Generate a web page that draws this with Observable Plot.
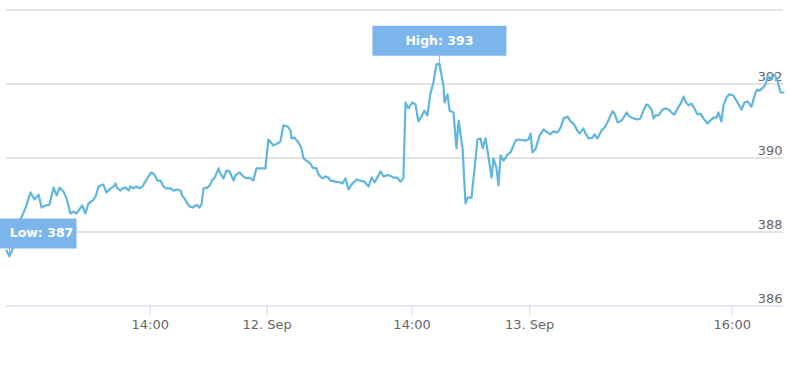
<!DOCTYPE html>
<html>
<head>
<meta charset="utf-8">
<script src="https://cdn.jsdelivr.net/npm/d3@7"></script>
<script src="https://cdn.jsdelivr.net/npm/@observablehq/plot@0.6"></script>
<style>
  html, body { margin: 0; padding: 0; background: #fff; }
  #chart svg { display: block; overflow: visible; }
</style>
</head>
<body>
<div id="chart"></div>
<script>
// ordinal position along the (gap-less) time axis
const pos = [
  0,1,2,3.3,4.7,6.3,8,9.3,10.7,11.7,
  13.3,14.3,15.7,16.7,17.7,19,20,21.3,22.3,23.3,
  24.3,25.3,26.3,27.3,28.7,29.7,30.7,31.3,32.3,33.3,
  34.7,35.7,36.3,37,38,38.7,39.7,40.7,41.3,42.3,
  43.3,44.3,45.3,46.3,47.3,48.3,49.3,50.3,51.3,52.3,
  53.3,54.7,55.7,56.7,58,58.7,59.3,60.3,61,62,
  63,63.7,64.3,65,65.7,67,67.7,68.7,69.3,70.7,
  71.3,72.3,73.3,74.3,75.7,76.3,77.7,79,80,81,
  82.3,83.3,85.3,86.3,87.3,89,90.3,91.3,92.3,93.7,
  94.7,95,96,97.3,98.3,99,100.3,101.3,102,103.3,
  104,105.3,106.3,107.3,108,109.7,111.3,112,113,114,
  115,116.7,117.7,119.3,120.7,121.7,122.7,124.7,125.7,126.7,
  127.7,129,130.3,131.3,132.3,133,134,135.3,136.3,137.3,
  138.3,139.3,140.3,141.3,142.3,143.3,144.3,145.7,146,147,
  147.7,149,150,150.7,152,153,153.7,155,156.3,157,
  158,158.7,159.7,160.7,161.7,162.3,163.3,164,164.7,165.7,
  167,168,169.7,170.7,173,174,174.7,175.3,176.3,177.7,
  179,180.3,181.3,182.3,183.7,184.7,185.7,187,188,189,
  190.3,191,192.3,193,194,195.3,196,197,198.3,199.3,
  200.3,202,202.7,203.7,205,205.7,206.7,207.7,209,210.3,
  211.3,212.3,213.3,214,215,215.7,216.3,217.3,218.7,219.7,
  220.7,222,222.7,223.7,224.7,225.7,226.3,227.3,228.3,229.3,
  230.3,231.3,232.3,233.7,234.3,235.7,236.7,237.3,238.3,239,
  240,241,242.3,243.3,245,246,247,248.3,249.7,250.3,
  251,252.3,253,253.7,254.7,256,257,258,259
];

const price = [
  387.50,387.34,387.53,387.93,388.34,388.64,389.07,388.88,389.01,388.66,
  388.72,388.74,389.20,388.99,389.20,389.09,388.91,388.50,388.55,388.50,
  388.61,388.72,388.50,388.77,388.85,388.96,389.23,389.26,389.28,389.07,
  389.18,389.23,389.31,389.18,389.12,389.18,389.20,389.12,389.23,389.18,
  389.23,389.18,389.23,389.36,389.50,389.61,389.55,389.39,389.39,389.23,
  389.18,389.18,389.12,389.15,389.12,388.96,388.91,388.77,388.69,388.66,
  388.72,388.72,388.66,388.74,389.18,389.20,389.26,389.42,389.45,389.72,
  389.58,389.45,389.66,389.64,389.39,389.53,389.61,389.50,389.45,389.47,
  389.39,389.72,389.72,389.72,390.50,390.34,390.39,390.45,390.88,390.85,
  390.74,390.53,390.55,390.42,390.28,389.99,389.91,389.85,389.74,389.72,
  389.55,389.45,389.50,389.47,389.39,389.36,389.34,389.31,389.45,389.15,
  389.28,389.42,389.39,389.36,389.23,389.47,389.34,389.64,389.50,389.53,
  389.53,389.47,389.47,389.36,389.45,391.50,391.34,391.50,391.45,390.99,
  391.12,391.28,391.15,391.74,392.04,392.53,392.55,391.93,391.50,391.72,
  391.28,391.23,390.26,391.01,390.28,388.77,388.93,388.93,389.93,390.50,
  390.53,390.26,390.53,390.01,389.47,389.99,389.74,389.26,390.07,389.93,
  390.09,390.15,390.47,390.50,390.47,390.50,390.66,390.15,390.23,390.61,
  390.77,390.69,390.64,390.72,390.69,390.82,391.07,391.12,390.99,390.93,
  390.74,390.66,390.80,390.66,390.53,390.55,390.64,390.53,390.74,390.82,
  390.96,391.26,391.20,390.96,391.01,391.09,391.23,391.12,391.07,391.04,
  391.07,391.28,391.45,391.42,391.31,391.07,391.15,391.15,391.31,391.34,
  391.31,391.20,391.18,391.34,391.47,391.66,391.53,391.42,391.47,391.34,
  391.18,391.20,391.07,390.93,390.99,391.09,391.09,391.23,390.99,391.42,
  391.64,391.72,391.69,391.55,391.31,391.50,391.53,391.39,391.77,391.85,
  391.82,391.91,391.99,392.18,392.12,392.26,392.09,391.77,391.77
];

const xTickPos = [47.9, 86.9, 135.2, 174.4, 241.9];
const xTickLabels = ["14:00", "12. Sep", "14:00", "13. Sep", "16:00"];
const yGrid = [386, 388, 390, 392, 394];
const yLabels = [386, 388, 390, 392];

const data = d3.zip(pos, price).map(([p, v]) => ({p, v}));
const hi = data[d3.maxIndex(data, d => d.v)];
const lo = data[d3.minIndex(data, d => d.v)];
const tickLabelOf = new Map(xTickPos.map((p, i) => [p, xTickLabels[i]]));

// callout box drawn above the anchored point (in pixel space around the point)
const calloutBox = {
  draw(ctx) {
    ctx.rect(-67, -38, 134, 30);
    ctx.rect(-0.5, -8, 1, 8);
  }
};

const chart = Plot.plot({
  width: 792,
  height: 367,
  marginLeft: 6,
  marginRight: 9,
  marginTop: 9.5,
  marginBottom: 61.5,
  style: {fontFamily: "'DejaVu Sans', sans-serif", fontSize: "13px", color: "#666", background: "#fff"},
  x: {domain: [0, 259], label: null},
  y: {domain: [386, 394], axis: null, label: null},
  marks: [
    Plot.ruleY(yGrid.filter(d => d !== 386), {stroke: "#c8c8c8", strokeWidth: 1}),
    Plot.ruleY([386], {stroke: "#ccd6eb", strokeWidth: 1}),
    Plot.axisX(xTickPos, {
      tickFormat: d => tickLabelOf.get(d),
      tickSize: 10,
      tickPadding: 4,
      stroke: "#ccd6eb",
      fill: "#666",
      fontSize: 13,
      label: null
    }),
    Plot.text(yLabels, {
      y: d => d,
      frameAnchor: "right",
      textAnchor: "end",
      text: d => String(d),
      dx: -1,
      dy: -7.5,
      fill: "#666",
      fontSize: 13
    }),
    Plot.line(data, {x: "p", y: "v", stroke: "#60b6dc", strokeWidth: 2.2, strokeLinejoin: "round"}),
    Plot.dot([hi, lo], {x: "p", y: "v", symbol: calloutBox, fill: "#7cb5ec", stroke: "none"}),
    Plot.text([hi], {
      x: "p", y: "v", text: d => `High: ${Math.round(d.v)}`,
      dy: -23, fill: "#fff", fontWeight: "bold", fontSize: 12.5
    }),
    Plot.text([lo], {
      x: "p", y: "v", text: d => `Low: ${Math.round(d.v)}`,
      dx: 32, dy: -23, fill: "#fff", fontWeight: "bold", fontSize: 12.5
    })
  ]
});

document.getElementById("chart").appendChild(chart);
</script>
</body>
</html>
